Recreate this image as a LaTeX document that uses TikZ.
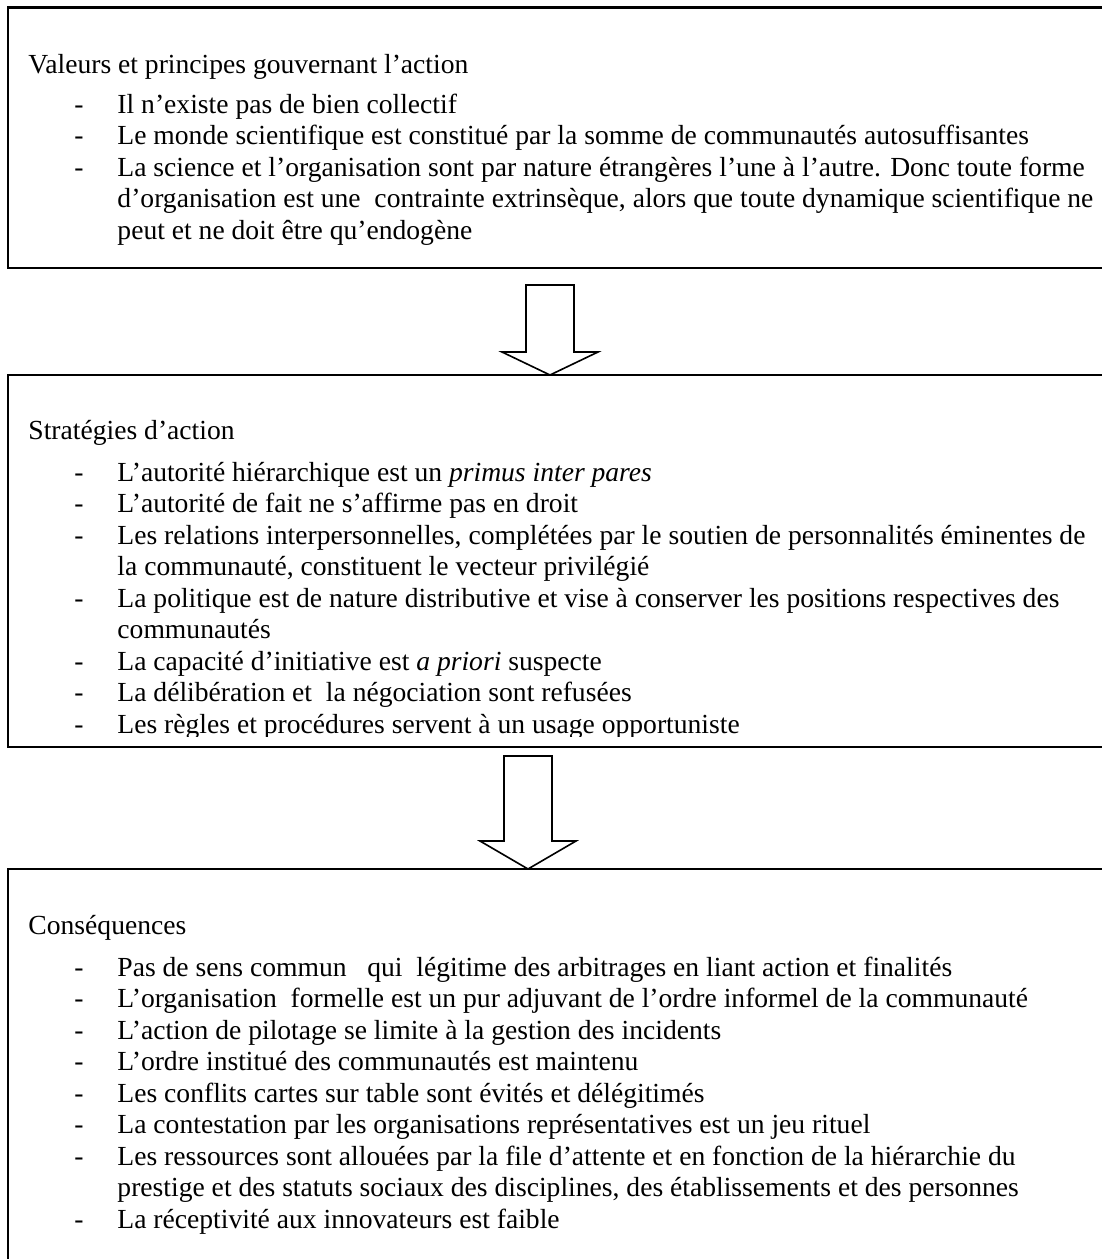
\documentclass[tikz,border=0pt]{standalone}
\usepackage{fontspec}
\setmainfont{Liberation Serif}
\usetikzlibrary{calc}

\begin{document}
\begin{tikzpicture}[x=0.4348pt, y=-0.4348pt,
    font=\fontsize{12pt}{13.7pt}\selectfont,
    box/.style={draw, line width=0.9pt},
    blockarrow/.style={draw, line width=0.7pt, line join=miter, fill=white},
    heading/.style={anchor=base west, inner sep=0pt},
    itemlist/.style={anchor=base west, inner sep=0pt}]
  \clip (0,0) rectangle (1102,1259);
  % (1) values and principles
  \draw[box] (8,7.5) coordinate (valeurs nw) rectangle (1110,268) coordinate (valeurs se);
  \node[heading] (valeurs title) at (28,73) {Valeurs et principes gouvernant l’action};
  \node[itemlist] (valeurs list) at (74,113) {\begin{tabular}[t]{@{}p{18.7pt}@{}l@{}}
    - & Il n’existe pas de bien collectif\\
    - & Le monde scientifique est constitué par la somme de communautés autosuffisantes\\
    - & La science et l’organisation sont par nature étrangères l’une à l’autre. Donc toute forme\\
      & d’organisation est une~ contrainte extrinsèque, alors que toute dynamique scientifique ne\\
      & peut et ne doit être qu’endogène
  \end{tabular}};
  % (2) strategies, the last line is cut by the frame
  \draw[box] (8,375) coordinate (strategies nw) rectangle (1110,747) coordinate (strategies se);
  \node[heading] (strategies title) at (28,439) {Stratégies d’action};
  \begin{scope}
    \clip (0,376) rectangle (1102,736);
    \node[itemlist] (strategies list) at (74,481) {\begin{tabular}[t]{@{}p{18.7pt}@{}l@{}}
      - & L’autorité hiérarchique est un \textit{primus inter pares}\\
      - & L’autorité de fait ne s’affirme pas en droit\\
      - & Les relations interpersonnelles, complétées par le soutien de personnalités éminentes de\\
        & la communauté, constituent le vecteur privilégié\\
      - & La politique est de nature distributive et vise à conserver les positions respectives des\\
        & communautés\\
      - & La capacité d’initiative est \textit{a priori} suspecte\\
      - & La délibération et~ la négociation sont refusées\\
      - & Les règles et procédures servent à un usage opportuniste
    \end{tabular}};
  \end{scope}
  % (3) consequences
  \draw[box] (8,869) coordinate (consequences nw) rectangle (1110,1275) coordinate (consequences se);
  \node[heading] (consequences title) at (28,934) {Conséquences};
  \node[itemlist] (consequences list) at (74,976) {\begin{tabular}[t]{@{}p{18.7pt}@{}l@{}}
    - & Pas de sens commun~~ qui~ légitime des arbitrages en liant action et finalités\\
    - & L’organisation~ formelle est un pur adjuvant de l’ordre informel de la communauté\\
    - & L’action de pilotage se limite à la gestion des incidents\\
    - & L’ordre institué des communautés est maintenu\\
    - & Les conflits cartes sur table sont évités et délégitimés\\
    - & La contestation par les organisations représentatives est un jeu rituel\\
    - & Les ressources sont allouées par la file d’attente et en fonction de la hiérarchie du\\
      & prestige et des statuts sociaux des disciplines, des établissements et des personnes\\
    - & La réceptivité aux innovateurs est faible
  \end{tabular}};
  % block arrows, tips on the top edge of the next frame
  \coordinate (tip one) at ($(strategies nw)+(542,0)$);
  \coordinate (tip two) at ($(consequences nw)+(520,0)$);
  \draw[blockarrow] (tip one) -- ++(-48,-23) -- ++(24,0) -- ++(0,-67) -- ++(48,0) -- ++(0,67) -- ++(24,0) -- cycle;
  \draw[blockarrow] (tip two) -- ++(-48,-28) -- ++(24,0) -- ++(0,-85) -- ++(48,0) -- ++(0,85) -- ++(24,0) -- cycle;
\end{tikzpicture}
\end{document}
